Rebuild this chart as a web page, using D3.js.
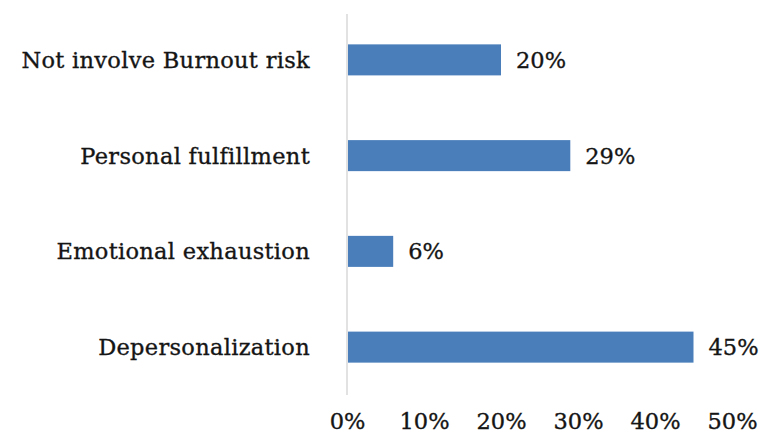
<!DOCTYPE html>
<html>
<head>
<meta charset="utf-8">
<script src="https://cdn.jsdelivr.net/npm/d3@7"></script>
<style>
  html, body { margin: 0; padding: 0; background: #fff; }
  svg { display: block; }
  text { font-family: "DejaVu Serif", "Liberation Serif", serif; fill: #151515; stroke: #151515; stroke-width: 0.35px; }
</style>
</head>
<body>
<svg id="chart" width="765" height="442"></svg>
<script>
// Burnout dimensions, top to bottom
const categories = ["Not involve Burnout risk", "Personal fulfillment", "Emotional exhaustion", "Depersonalization"];
const values = [20, 29, 6, 45];
const tickValues = [0, 10, 20, 30, 40, 50];

const svg = d3.select("#chart");
const plot = { left: 347, right: 732, top: 12, bottom: 395 };

const x = d3.scaleLinear().domain([0, 50]).range([plot.left, plot.right]);
const y = d3.scaleBand().domain(categories).range([plot.top, plot.bottom]).paddingInner(0.676).paddingOuter(0.338);

// vertical category axis line
svg.append("line")
  .attr("x1", x(0)).attr("x2", x(0))
  .attr("y1", 14).attr("y2", plot.bottom)
  .attr("stroke", "#d9d9d9").attr("stroke-width", 1.5);

// bars
svg.selectAll("rect.bar").data(values).enter().append("rect")
  .attr("class", "bar")
  .attr("x", x(0) + 1)
  .attr("y", (d, i) => y(categories[i]))
  .attr("width", d => x(d) - x(0) - 1)
  .attr("height", y.bandwidth())
  .attr("fill", "#4a7ebb");

// value labels
svg.selectAll("text.val").data(values).enter().append("text")
  .attr("class", "val")
  .attr("x", d => x(d) + 15)
  .attr("y", (d, i) => y(categories[i]) + y.bandwidth() / 2)
  .attr("dy", "0.36em")
  .attr("font-size", 22.5)
  .text(d => d + "%");

// category labels
const catAxis = d3.axisLeft(y).tickSize(0).tickPadding(37);
const gy = svg.append("g").attr("transform", `translate(${x(0)},0)`).call(catAxis);
gy.select(".domain").remove();
gy.selectAll("text")
  .attr("font-size", 22.5)
  .attr("font-family", "DejaVu Serif, serif")
  .attr("fill", "#151515")
  .attr("letter-spacing", "0.3px")
  .attr("dy", "0.36em");

// percentage axis labels
const valAxis = d3.axisBottom(x).tickValues(tickValues).tickSize(0).tickPadding(0).tickFormat(d => d + "%");
const gx = svg.append("g").attr("transform", "translate(0,413)").call(valAxis);
gx.select(".domain").remove();
gx.selectAll("text").attr("font-size", 22.5).attr("font-family", "DejaVu Serif, serif").attr("fill", "#151515");
</script>
</body>
</html>
